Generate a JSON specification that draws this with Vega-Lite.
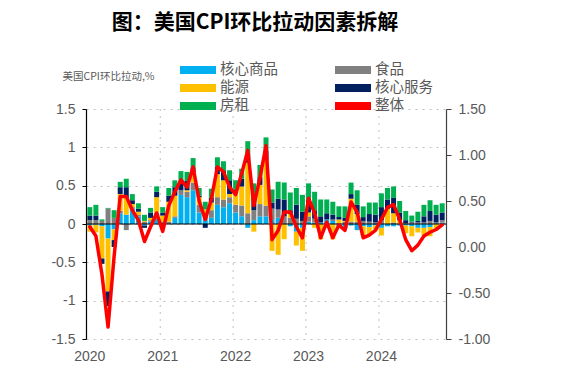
{
"$schema":"https://vega.github.io/schema/vega-lite/v6.json",
"autosize":{"type":"none"},
"width":360,"height":230,
"padding":{"left":86,"top":109,"right":115,"bottom":47},
"config":{"view":{"stroke":null},"font":"Liberation Sans"},
"title":{"text":"图：美国CPI环比拉动因素拆解","font":"Noto Sans CJK SC","fontSize":21,"fontWeight":"bold","color":"#000000","anchor":"middle","frame":"group","dx":-11,"offset":29},
"datasets":{
"comps":[{"c":"核心商品","k":1},{"c":"食品","k":2},{"c":"能源","k":3},{"c":"核心服务","k":4},{"c":"房租","k":5}],
"yrs":[{"m":"2021-01"},{"m":"2022-01"},{"m":"2023-01"},{"m":"2024-01"}],
"total":[
{"m":"2020-01","v":0.22},{"m":"2020-02","v":0.12},{"m":"2020-03","v":-0.30},{"m":"2020-04","v":-0.87},{"m":"2020-05","v":-0.10},{"m":"2020-06","v":0.55},{"m":"2020-07","v":0.55},{"m":"2020-08","v":0.40},{"m":"2020-09","v":0.29},{"m":"2020-10","v":0.06},{"m":"2020-11","v":0.22},{"m":"2020-12","v":0.37},
{"m":"2021-01","v":0.17},{"m":"2021-02","v":0.45},{"m":"2021-03","v":0.60},{"m":"2021-04","v":0.73},{"m":"2021-05","v":0.65},{"m":"2021-06","v":0.87},{"m":"2021-07","v":0.50},{"m":"2021-08","v":0.30},{"m":"2021-09","v":0.52},{"m":"2021-10","v":0.87},{"m":"2021-11","v":0.82},{"m":"2021-12","v":0.65},
{"m":"2022-01","v":0.57},{"m":"2022-02","v":0.80},{"m":"2022-03","v":1.05},{"m":"2022-04","v":0.45},{"m":"2022-05","v":0.75},{"m":"2022-06","v":1.10},{"m":"2022-07","v":0.08},{"m":"2022-08","v":0.18},{"m":"2022-09","v":0.38},{"m":"2022-10","v":0.38},{"m":"2022-11","v":0.22},{"m":"2022-12","v":0.10},
{"m":"2023-01","v":0.53},{"m":"2023-02","v":0.37},{"m":"2023-03","v":0.10},{"m":"2023-04","v":0.27},{"m":"2023-05","v":0.10},{"m":"2023-06","v":0.24},{"m":"2023-07","v":0.18},{"m":"2023-08","v":0.49},{"m":"2023-09","v":0.38},{"m":"2023-10","v":0.10},{"m":"2023-11","v":0.13},{"m":"2023-12","v":0.18},
{"m":"2024-01","v":0.30},{"m":"2024-02","v":0.43},{"m":"2024-03","v":0.46},{"m":"2024-04","v":0.30},{"m":"2024-05","v":0.08},{"m":"2024-06","v":-0.04},{"m":"2024-07","v":0.02},{"m":"2024-08","v":0.12},{"m":"2024-09","v":0.16},{"m":"2024-10","v":0.19},{"m":"2024-11","v":0.24}
],
"bars":[
{"m":"2020-01","c":"核心商品","v":-0.02},{"m":"2020-01","c":"食品","v":0.05},{"m":"2020-01","c":"能源","v":-0.08},{"m":"2020-01","c":"核心服务","v":0.06},{"m":"2020-01","c":"房租","v":0.11},
{"m":"2020-02","c":"核心商品","v":-0.01},{"m":"2020-02","c":"食品","v":0.05},{"m":"2020-02","c":"能源","v":-0.10},{"m":"2020-02","c":"核心服务","v":0.06},{"m":"2020-02","c":"房租","v":0.14},
{"m":"2020-03","c":"核心商品","v":-0.03},{"m":"2020-03","c":"食品","v":0.04},{"m":"2020-03","c":"能源","v":-0.42},{"m":"2020-03","c":"核心服务","v":-0.07},{"m":"2020-03","c":"房租","v":0.02},
{"m":"2020-04","c":"核心商品","v":-0.19},{"m":"2020-04","c":"食品","v":0.20},{"m":"2020-04","c":"能源","v":-0.69},{"m":"2020-04","c":"核心服务","v":-0.19},{"m":"2020-04","c":"房租","v":0.01},
{"m":"2020-05","c":"核心商品","v":-0.07},{"m":"2020-05","c":"食品","v":0.08},{"m":"2020-05","c":"能源","v":-0.14},{"m":"2020-05","c":"核心服务","v":-0.09},{"m":"2020-05","c":"房租","v":0.10},
{"m":"2020-06","c":"核心商品","v":0.14},{"m":"2020-06","c":"食品","v":0.03},{"m":"2020-06","c":"能源","v":0.22},{"m":"2020-06","c":"核心服务","v":0.09},{"m":"2020-06","c":"房租","v":0.07},
{"m":"2020-07","c":"核心商品","v":0.12},{"m":"2020-07","c":"食品","v":-0.08},{"m":"2020-07","c":"能源","v":0.22},{"m":"2020-07","c":"核心服务","v":0.14},{"m":"2020-07","c":"房租","v":0.11},
{"m":"2020-08","c":"核心商品","v":0.20},{"m":"2020-08","c":"食品","v":0.02},{"m":"2020-08","c":"能源","v":0.04},{"m":"2020-08","c":"核心服务","v":0.05},{"m":"2020-08","c":"房租","v":0.08},
{"m":"2020-09","c":"核心商品","v":0.10},{"m":"2020-09","c":"食品","v":0.02},{"m":"2020-09","c":"能源","v":0.04},{"m":"2020-09","c":"核心服务","v":0.04},{"m":"2020-09","c":"房租","v":0.07},
{"m":"2020-10","c":"核心商品","v":-0.02},{"m":"2020-10","c":"食品","v":0.03},{"m":"2020-10","c":"能源","v":0.01},{"m":"2020-10","c":"核心服务","v":-0.03},{"m":"2020-10","c":"房租","v":0.08},
{"m":"2020-11","c":"核心商品","v":0.03},{"m":"2020-11","c":"食品","v":0.02},{"m":"2020-11","c":"能源","v":0.03},{"m":"2020-11","c":"核心服务","v":0.07},{"m":"2020-11","c":"房租","v":0.06},
{"m":"2020-12","c":"核心商品","v":0.07},{"m":"2020-12","c":"食品","v":0.08},{"m":"2020-12","c":"能源","v":0.20},{"m":"2020-12","c":"核心服务","v":0.07},{"m":"2020-12","c":"房租","v":0.07},
{"m":"2021-01","c":"核心商品","v":-0.03},{"m":"2021-01","c":"食品","v":0.03},{"m":"2021-01","c":"能源","v":0.08},{"m":"2021-01","c":"核心服务","v":0.04},{"m":"2021-01","c":"房租","v":0.07},
{"m":"2021-02","c":"核心商品","v":0.00},{"m":"2021-02","c":"食品","v":0.03},{"m":"2021-02","c":"能源","v":0.26},{"m":"2021-02","c":"核心服务","v":0.08},{"m":"2021-02","c":"房租","v":0.10},
{"m":"2021-03","c":"核心商品","v":0.08},{"m":"2021-03","c":"食品","v":0.02},{"m":"2021-03","c":"能源","v":0.27},{"m":"2021-03","c":"核心服务","v":0.11},{"m":"2021-03","c":"房租","v":0.09},
{"m":"2021-04","c":"核心商品","v":0.38},{"m":"2021-04","c":"食品","v":0.06},{"m":"2021-04","c":"能源","v":0.00},{"m":"2021-04","c":"核心服务","v":0.10},{"m":"2021-04","c":"房租","v":0.15},
{"m":"2021-05","c":"核心商品","v":0.35},{"m":"2021-05","c":"食品","v":0.07},{"m":"2021-05","c":"能源","v":0.02},{"m":"2021-05","c":"核心服务","v":0.12},{"m":"2021-05","c":"房租","v":0.12},
{"m":"2021-06","c":"核心商品","v":0.44},{"m":"2021-06","c":"食品","v":0.10},{"m":"2021-06","c":"能源","v":0.14},{"m":"2021-06","c":"核心服务","v":0.06},{"m":"2021-06","c":"房租","v":0.12},
{"m":"2021-07","c":"核心商品","v":0.15},{"m":"2021-07","c":"食品","v":0.10},{"m":"2021-07","c":"能源","v":0.10},{"m":"2021-07","c":"核心服务","v":0.02},{"m":"2021-07","c":"房租","v":0.10},
{"m":"2021-08","c":"核心商品","v":0.05},{"m":"2021-08","c":"食品","v":0.05},{"m":"2021-08","c":"能源","v":0.09},{"m":"2021-08","c":"核心服务","v":-0.05},{"m":"2021-08","c":"房租","v":0.10},
{"m":"2021-09","c":"核心商品","v":0.08},{"m":"2021-09","c":"食品","v":0.10},{"m":"2021-09","c":"能源","v":0.10},{"m":"2021-09","c":"核心服务","v":0.06},{"m":"2021-09","c":"房租","v":0.12},
{"m":"2021-10","c":"核心商品","v":0.25},{"m":"2021-10","c":"食品","v":0.10},{"m":"2021-10","c":"能源","v":0.30},{"m":"2021-10","c":"核心服务","v":0.10},{"m":"2021-10","c":"房租","v":0.12},
{"m":"2021-11","c":"核心商品","v":0.22},{"m":"2021-11","c":"食品","v":0.10},{"m":"2021-11","c":"能源","v":0.25},{"m":"2021-11","c":"核心服务","v":0.12},{"m":"2021-11","c":"房租","v":0.13},
{"m":"2021-12","c":"核心商品","v":0.27},{"m":"2021-12","c":"食品","v":0.08},{"m":"2021-12","c":"能源","v":0.04},{"m":"2021-12","c":"核心服务","v":0.18},{"m":"2021-12","c":"房租","v":0.13},
{"m":"2022-01","c":"核心商品","v":0.15},{"m":"2022-01","c":"食品","v":0.10},{"m":"2022-01","c":"能源","v":0.15},{"m":"2022-01","c":"核心服务","v":0.05},{"m":"2022-01","c":"房租","v":0.12},
{"m":"2022-02","c":"核心商品","v":0.10},{"m":"2022-02","c":"食品","v":0.14},{"m":"2022-02","c":"能源","v":0.25},{"m":"2022-02","c":"核心服务","v":0.10},{"m":"2022-02","c":"房租","v":0.13},
{"m":"2022-03","c":"核心商品","v":-0.05},{"m":"2022-03","c":"食品","v":0.14},{"m":"2022-03","c":"能源","v":0.66},{"m":"2022-03","c":"核心服务","v":0.12},{"m":"2022-03","c":"房租","v":0.16},
{"m":"2022-04","c":"核心商品","v":0.05},{"m":"2022-04","c":"食品","v":0.13},{"m":"2022-04","c":"能源","v":-0.10},{"m":"2022-04","c":"核心服务","v":0.20},{"m":"2022-04","c":"房租","v":0.15},
{"m":"2022-05","c":"核心商品","v":0.10},{"m":"2022-05","c":"食品","v":0.16},{"m":"2022-05","c":"能源","v":0.25},{"m":"2022-05","c":"核心服务","v":0.10},{"m":"2022-05","c":"房租","v":0.16},
{"m":"2022-06","c":"核心商品","v":0.10},{"m":"2022-06","c":"食品","v":0.14},{"m":"2022-06","c":"能源","v":0.60},{"m":"2022-06","c":"核心服务","v":0.12},{"m":"2022-06","c":"房租","v":0.17},
{"m":"2022-07","c":"核心商品","v":0.05},{"m":"2022-07","c":"食品","v":0.15},{"m":"2022-07","c":"能源","v":-0.35},{"m":"2022-07","c":"核心服务","v":0.08},{"m":"2022-07","c":"房租","v":0.17},
{"m":"2022-08","c":"核心商品","v":0.08},{"m":"2022-08","c":"食品","v":0.11},{"m":"2022-08","c":"能源","v":-0.40},{"m":"2022-08","c":"核心服务","v":0.14},{"m":"2022-08","c":"房租","v":0.22},
{"m":"2022-09","c":"核心商品","v":0.00},{"m":"2022-09","c":"食品","v":0.10},{"m":"2022-09","c":"能源","v":-0.20},{"m":"2022-09","c":"核心服务","v":0.22},{"m":"2022-09","c":"房租","v":0.22},
{"m":"2022-10","c":"核心商品","v":-0.03},{"m":"2022-10","c":"食品","v":0.08},{"m":"2022-10","c":"能源","v":0.05},{"m":"2022-10","c":"核心服务","v":0.05},{"m":"2022-10","c":"房租","v":0.23},
{"m":"2022-11","c":"核心商品","v":-0.10},{"m":"2022-11","c":"食品","v":0.07},{"m":"2022-11","c":"能源","v":-0.18},{"m":"2022-11","c":"核心服务","v":0.18},{"m":"2022-11","c":"房租","v":0.22},
{"m":"2022-12","c":"核心商品","v":-0.05},{"m":"2022-12","c":"食品","v":0.04},{"m":"2022-12","c":"能源","v":-0.30},{"m":"2022-12","c":"核心服务","v":0.12},{"m":"2022-12","c":"房租","v":0.22},
{"m":"2023-01","c":"核心商品","v":0.03},{"m":"2023-01","c":"食品","v":0.07},{"m":"2023-01","c":"能源","v":0.05},{"m":"2023-01","c":"核心服务","v":0.16},{"m":"2023-01","c":"房租","v":0.22},
{"m":"2023-02","c":"核心商品","v":0.02},{"m":"2023-02","c":"食品","v":0.05},{"m":"2023-02","c":"能源","v":-0.05},{"m":"2023-02","c":"核心服务","v":0.10},{"m":"2023-02","c":"房租","v":0.25},
{"m":"2023-03","c":"核心商品","v":0.02},{"m":"2023-03","c":"食品","v":0.00},{"m":"2023-03","c":"能源","v":-0.20},{"m":"2023-03","c":"核心服务","v":0.08},{"m":"2023-03","c":"房租","v":0.22},
{"m":"2023-04","c":"核心商品","v":0.06},{"m":"2023-04","c":"食品","v":0.00},{"m":"2023-04","c":"能源","v":-0.05},{"m":"2023-04","c":"核心服务","v":0.08},{"m":"2023-04","c":"房租","v":0.18},
{"m":"2023-05","c":"核心商品","v":0.04},{"m":"2023-05","c":"食品","v":0.02},{"m":"2023-05","c":"能源","v":-0.20},{"m":"2023-05","c":"核心服务","v":0.06},{"m":"2023-05","c":"房租","v":0.17},
{"m":"2023-06","c":"核心商品","v":-0.03},{"m":"2023-06","c":"食品","v":0.01},{"m":"2023-06","c":"能源","v":0.05},{"m":"2023-06","c":"核心服务","v":0.03},{"m":"2023-06","c":"房租","v":0.14},
{"m":"2023-07","c":"核心商品","v":-0.06},{"m":"2023-07","c":"食品","v":0.03},{"m":"2023-07","c":"能源","v":0.01},{"m":"2023-07","c":"核心服务","v":0.04},{"m":"2023-07","c":"房租","v":0.15},
{"m":"2023-08","c":"核心商品","v":-0.02},{"m":"2023-08","c":"食品","v":0.03},{"m":"2023-08","c":"能源","v":0.30},{"m":"2023-08","c":"核心服务","v":0.06},{"m":"2023-08","c":"房租","v":0.15},
{"m":"2023-09","c":"核心商品","v":-0.08},{"m":"2023-09","c":"食品","v":0.03},{"m":"2023-09","c":"能源","v":0.10},{"m":"2023-09","c":"核心服务","v":0.12},{"m":"2023-09","c":"房租","v":0.19},
{"m":"2023-10","c":"核心商品","v":-0.03},{"m":"2023-10","c":"食品","v":0.04},{"m":"2023-10","c":"能源","v":-0.12},{"m":"2023-10","c":"核心服务","v":0.05},{"m":"2023-10","c":"房租","v":0.14},
{"m":"2023-11","c":"核心商品","v":-0.04},{"m":"2023-11","c":"食品","v":0.03},{"m":"2023-11","c":"能源","v":-0.10},{"m":"2023-11","c":"核心服务","v":0.10},{"m":"2023-11","c":"房租","v":0.15},
{"m":"2023-12","c":"核心商品","v":-0.02},{"m":"2023-12","c":"食品","v":0.02},{"m":"2023-12","c":"能源","v":-0.05},{"m":"2023-12","c":"核心服务","v":0.10},{"m":"2023-12","c":"房租","v":0.16},
{"m":"2024-01","c":"核心商品","v":-0.05},{"m":"2024-01","c":"食品","v":0.05},{"m":"2024-01","c":"能源","v":-0.10},{"m":"2024-01","c":"核心服务","v":0.17},{"m":"2024-01","c":"房租","v":0.18},
{"m":"2024-02","c":"核心商品","v":-0.03},{"m":"2024-02","c":"食品","v":0.00},{"m":"2024-02","c":"能源","v":0.20},{"m":"2024-02","c":"核心服务","v":0.12},{"m":"2024-02","c":"房租","v":0.15},
{"m":"2024-03","c":"核心商品","v":-0.03},{"m":"2024-03","c":"食品","v":0.02},{"m":"2024-03","c":"能源","v":0.12},{"m":"2024-03","c":"核心服务","v":0.20},{"m":"2024-03","c":"房租","v":0.15},
{"m":"2024-04","c":"核心商品","v":-0.02},{"m":"2024-04","c":"食品","v":0.00},{"m":"2024-04","c":"能源","v":0.05},{"m":"2024-04","c":"核心服务","v":0.10},{"m":"2024-04","c":"房租","v":0.15},
{"m":"2024-05","c":"核心商品","v":-0.02},{"m":"2024-05","c":"食品","v":0.01},{"m":"2024-05","c":"能源","v":-0.10},{"m":"2024-05","c":"核心服务","v":0.04},{"m":"2024-05","c":"房租","v":0.12},
{"m":"2024-06","c":"核心商品","v":-0.03},{"m":"2024-06","c":"食品","v":0.02},{"m":"2024-06","c":"能源","v":-0.13},{"m":"2024-06","c":"核心服务","v":0.01},{"m":"2024-06","c":"房租","v":0.08},
{"m":"2024-07","c":"核心商品","v":-0.05},{"m":"2024-07","c":"食品","v":0.02},{"m":"2024-07","c":"能源","v":-0.06},{"m":"2024-07","c":"核心服务","v":0.02},{"m":"2024-07","c":"房租","v":0.12},
{"m":"2024-08","c":"核心商品","v":-0.05},{"m":"2024-08","c":"食品","v":0.02},{"m":"2024-08","c":"能源","v":-0.10},{"m":"2024-08","c":"核心服务","v":0.08},{"m":"2024-08","c":"房租","v":0.15},
{"m":"2024-09","c":"核心商品","v":-0.04},{"m":"2024-09","c":"食品","v":0.04},{"m":"2024-09","c":"能源","v":-0.12},{"m":"2024-09","c":"核心服务","v":0.13},{"m":"2024-09","c":"房租","v":0.14},
{"m":"2024-10","c":"核心商品","v":0.00},{"m":"2024-10","c":"食品","v":0.02},{"m":"2024-10","c":"能源","v":-0.06},{"m":"2024-10","c":"核心服务","v":0.10},{"m":"2024-10","c":"房租","v":0.13},
{"m":"2024-11","c":"核心商品","v":0.02},{"m":"2024-11","c":"食品","v":0.03},{"m":"2024-11","c":"能源","v":0.00},{"m":"2024-11","c":"核心服务","v":0.10},{"m":"2024-11","c":"房租","v":0.12}
]},
"resolve":{"scale":{"y":"independent"}},
"layer":[
{"data":{"name":"yrs"},
 "mark":{"type":"rule","strokeDash":[2,5],"color":"#BFBFBF","strokeWidth":1},
 "encoding":{"x":{"field":"m","type":"ordinal","bandPosition":0,"scale":{"paddingInner":0.18,"paddingOuter":0.22},
   "axis":{"values":["2020-01","2021-01","2022-01","2023-01","2024-01"],"labelExpr":"substring(datum.value,0,4)","labelAngle":0,"ticks":false,"tickSize":0,"domain":false,"grid":false,"labelColor":"#595959","labelFontSize":14,"labelPadding":10,"title":null}}}},
{"data":{"name":"bars"},
 "transform":[{"lookup":"c","from":{"data":{"name":"comps"},"key":"c","fields":["k"]}}],
 "mark":{"type":"bar"},
 "encoding":{
  "x":{"field":"m","type":"ordinal","scale":{"paddingInner":0.18,"paddingOuter":0.22},
   "axis":{"values":["2020-01","2021-01","2022-01","2023-01","2024-01"],"labelExpr":"substring(datum.value,0,4)","labelAngle":0,"ticks":false,"tickSize":0,"domain":false,"grid":false,"labelColor":"#595959","labelFontSize":14,"labelPadding":10,"title":null}},
  "y":{"field":"v","type":"quantitative","stack":"zero","scale":{"domain":[-1.5,1.5],"nice":false,"zero":false},
   "axis":{"orient":"left","values":[-1.5,-1,-0.5,0,0.5,1,1.5],"labelExpr":"'' + datum.value","grid":true,"gridDash":[2,5],"gridColor":"#BFBFBF","gridWidth":1,"domainColor":"#000000","domainWidth":1.2,"tickColor":"#000000","tickSize":4,"labelColor":"#595959","labelFontSize":14,"labelPadding":7,"title":"美国CPI环比拉动,%","titleAngle":0,"titleAlign":"left","titleBaseline":"middle","titleX":-24,"titleY":-33,"titleFontSize":10.5,"titleFontWeight":"normal","titleColor":"#595959","titleFont":"Noto Sans CJK SC"}},
  "order":{"field":"k","type":"quantitative","sort":"ascending"},
  "color":{"field":"c","type":"nominal",
   "scale":{"domain":["核心商品","能源","房租","食品","核心服务","整体"],"range":["#00B0F0","#FFC000","#00B050","#808080","#002060","#FF0000"]},
   "legend":{"orient":"none","legendX":94,"legendY":-47,"columns":2,"title":null,"symbolType":"M-1,-0.22H1V0.22H-1Z","symbolSize":1296,"clipHeight":16,"rowPadding":2,"columnPadding":57,"labelFontSize":14.5,"labelColor":"#595959","labelFont":"Noto Sans CJK SC","labelOffset":4,"symbolStrokeWidth":0,"symbolOpacity":1,
     "encode":{"symbols":{"update":{"fill":{"scale":"color","field":"value"},"opacity":{"value":1}}}}}}
 }},
{"data":{"values":[{}]},
 "mark":{"type":"rule","color":"#000000","strokeWidth":1.2},
 "encoding":{"y":{"datum":0,"type":"quantitative","scale":{"domain":[-1.5,1.5],"nice":false,"zero":false},"axis":null}}},
{"data":{"name":"total"},
 "mark":{"type":"line","strokeWidth":3.5,"strokeJoin":"round","strokeCap":"round"},
 "encoding":{
  "x":{"field":"m","type":"ordinal","scale":{"paddingInner":0.18,"paddingOuter":0.22},
   "axis":{"values":["2020-01","2021-01","2022-01","2023-01","2024-01"],"labelExpr":"substring(datum.value,0,4)","labelAngle":0,"ticks":false,"tickSize":0,"domain":false,"grid":false,"labelColor":"#595959","labelFontSize":14,"labelPadding":10,"title":null}},
  "y":{"field":"v","type":"quantitative","scale":{"domain":[-1,1.5],"nice":false,"zero":false},
   "axis":{"orient":"right","values":[-1,-0.5,0,0.5,1,1.5],"labelExpr":"replace(format(datum.value,'.2f'),'−','-')","grid":false,"domainColor":"#404040","domainWidth":1.2,"tickColor":"#404040","tickSize":5,"labelColor":"#595959","labelFontSize":14,"labelPadding":7,"title":null}},
  "color":{"datum":"整体","type":"nominal",
   "legend":{"orient":"none","legendX":94,"legendY":-47,"columns":2,"title":null,"symbolType":"M-1,-0.22H1V0.22H-1Z","symbolSize":1296,"clipHeight":16,"rowPadding":2,"columnPadding":57,"labelFontSize":14.5,"labelColor":"#595959","labelFont":"Noto Sans CJK SC","labelOffset":4,"symbolStrokeWidth":0,"symbolOpacity":1,
     "encode":{"symbols":{"update":{"fill":{"scale":"color","field":"value"},"opacity":{"value":1}}}}}}
 }}
]}
